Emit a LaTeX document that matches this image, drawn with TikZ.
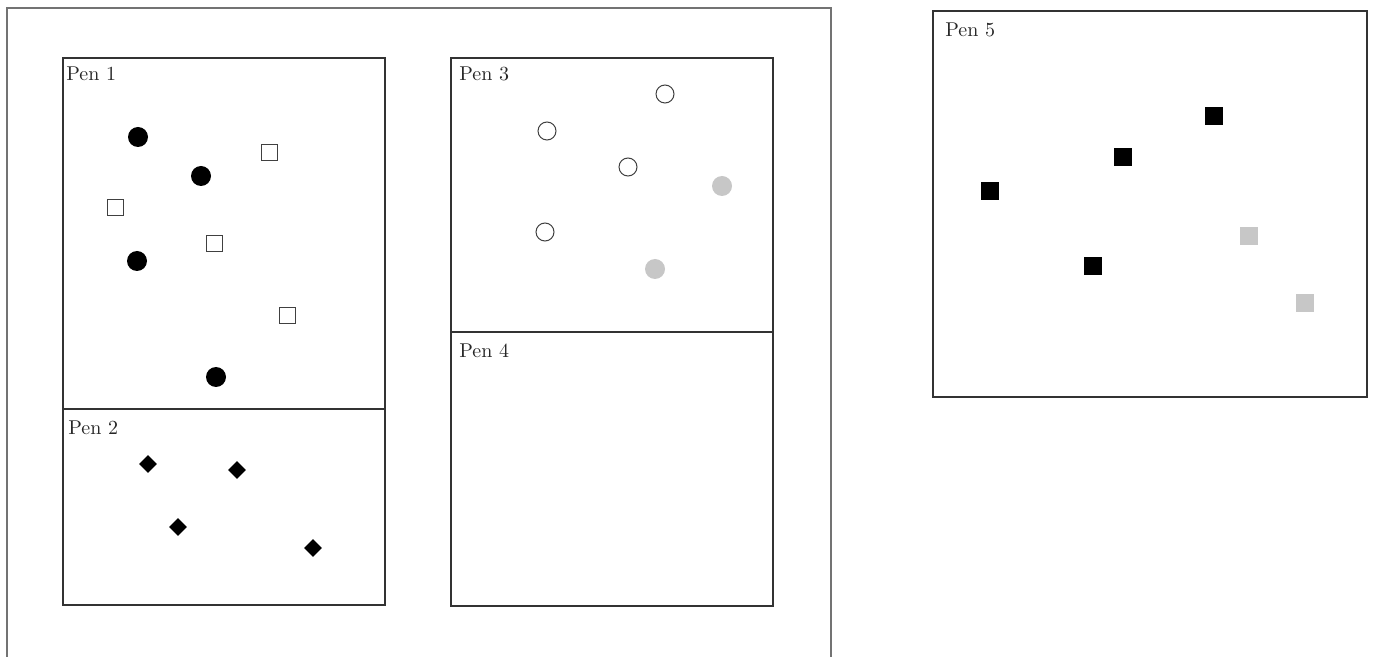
\documentclass[tikz,border=0pt]{standalone}
\usetikzlibrary{positioning,shapes.geometric}
\begin{document}
\begin{tikzpicture}[
	x=0.5pt, y=-0.5pt,
	frame/.style={draw=black!55, line width=0.9pt},
	pen/.style={rectangle, draw=black!80, line width=0.55pt, inner sep=0pt, minimum width=161pt},
	penlabel/.style={anchor=north west, inner sep=0pt, font=\fontsize{10}{12}\selectfont, text=black!85},
	dotfull/.style={circle, fill=black, inner sep=0pt, minimum size=10pt},
	dotopen/.style={circle, draw=black!75, fill=white, line width=0.5pt, inner sep=0pt, minimum size=9pt},
	dotgrey/.style={circle, fill=black!22, inner sep=0pt, minimum size=10pt},
	boxopen/.style={rectangle, draw=black!75, fill=white, line width=0.5pt, inner sep=0pt, minimum size=8pt},
	boxfull/.style={rectangle, fill=black, inner sep=0pt, minimum size=9pt},
	boxgrey/.style={rectangle, fill=black!22, inner sep=0pt, minimum size=9pt},
	gem/.style={diamond, fill=black, inner sep=0pt, minimum size=9pt}
]
\useasboundingbox (0,0) rectangle (1375,657);
% outer frame
\draw [frame] (7,662) -- (7,8) -- (831,8) -- (831,662);
% pens
\node (pen1) [pen, minimum height=175.5pt] at (224,233.5) {};
\node (pen2) [pen, minimum height=98pt] at (224,507) {};
\node (pen3) [pen, minimum height=137pt] at (612,195) {};
\node (pen4) [pen, minimum height=137pt] at (612,469) {};
\node (pen5) [pen, minimum width=217pt, minimum height=193pt] at (1150,204) {};
\node (lab1) [penlabel] at (66,66) {Pen 1};
\node (lab2) [penlabel] at (68,420) {Pen 2};
\node (lab3) [penlabel] at (459,66) {Pen 3};
\node (lab4) [penlabel] at (459,343) {Pen 4};
\node (lab5) [penlabel] at (945,22) {Pen 5};
% pen 1
\node (a1) [dotfull] at (138,137) {};
\node (a2) [dotfull] at (201,176) {};
\node (a3) [dotfull] at (137,261) {};
\node (a4) [dotfull] at (216,377) {};
\node (b1) [boxopen] at (269,153) {};
\node (b2) [boxopen] at (115,208) {};
\node (b3) [boxopen] at (214,244) {};
\node (b4) [boxopen] at (287,316) {};
% pen 2
\node (c1) [gem] at (148,464) {};
\node (c2) [gem] at (237,470) {};
\node (c3) [gem] at (178,527) {};
\node (c4) [gem] at (313,548) {};
% pen 3
\node (d1) [dotopen] at (665,94) {};
\node (d2) [dotopen] at (547,131) {};
\node (d3) [dotopen] at (628,167) {};
\node (d4) [dotopen] at (545,232) {};
\node (e1) [dotgrey] at (722,186) {};
\node (e2) [dotgrey] at (655,269) {};
% pen 5
\node (f1) [boxfull] at (1214,116) {};
\node (f2) [boxfull] at (1123,157) {};
\node (f3) [boxfull] at (990,191) {};
\node (f4) [boxfull] at (1093,266) {};
\node (g1) [boxgrey] at (1249,236) {};
\node (g2) [boxgrey] at (1305,303) {};
\end{tikzpicture}
\end{document}
